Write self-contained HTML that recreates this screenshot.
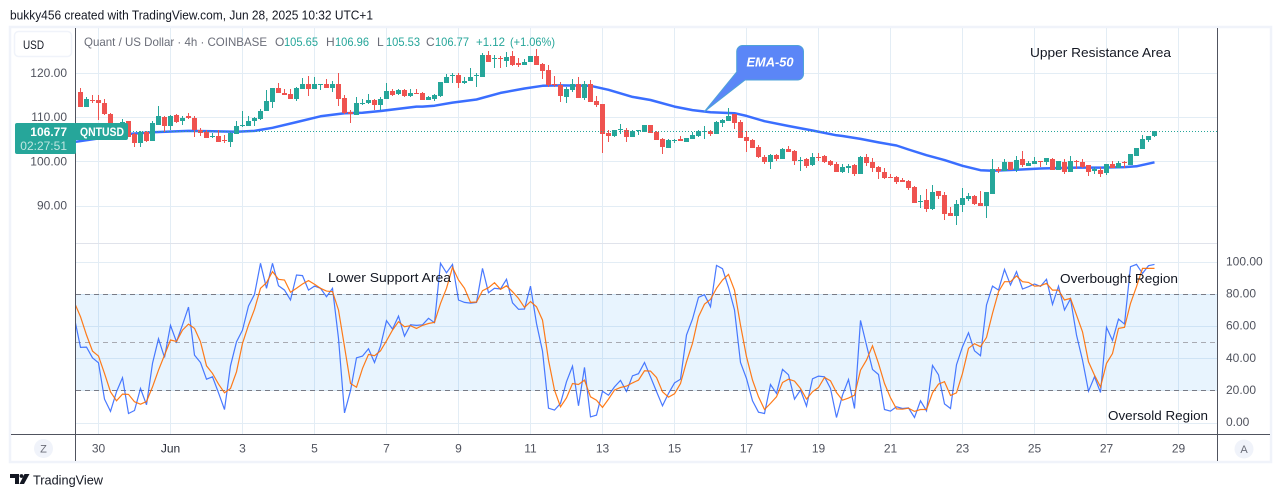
<!DOCTYPE html>
<html lang="en">
<head>
<meta charset="utf-8">
<title>Quant / US Dollar chart</title>
<style>
html,body{margin:0;padding:0;background:#fff;width:1281px;height:497px;overflow:hidden}
svg{display:block}
text{font-family:"Liberation Sans",sans-serif}
</style>
</head>
<body>
<svg id="chart" width="1281" height="497" viewBox="0 0 1281 497">
  <defs>
    <clipPath id="plot-clip"><rect x="76" y="28" width="1141" height="406"/></clipPath>
  </defs>
  <text x="10" y="19.5" font-size="13" fill="#131722" textLength="363" lengthAdjust="spacingAndGlyphs">bukky456 created with TradingView.com, Jun 28, 2025 10:32 UTC+1</text>
  <rect x="10" y="27" width="1261" height="435" fill="#fff" stroke="#f0f3fa" stroke-width="2.5"/>
  <g id="grid"></g>
  <rect id="band" x="76" fill="#2196f3" fill-opacity="0.1"/>
  <g id="osc-levels"></g>
  <line x1="76" x2="1217" y1="243.5" y2="243.5" stroke="#e0e3eb"/>
  <g clip-path="url(#plot-clip)">
    <polyline id="ema-line" fill="none" stroke="#2962ff" stroke-width="2.5" stroke-opacity="0.92" stroke-linejoin="round"/>
    <g id="candles"></g>
    <line id="price-line" x1="76" x2="1217" stroke="#26a69a" stroke-width="1" stroke-dasharray="1 2"/>
    <polyline id="k-line" fill="none" stroke="#2962ff" stroke-opacity="0.85" stroke-width="1.2"/>
    <polyline id="d-line" fill="none" stroke="#ff6d00" stroke-opacity="0.9" stroke-width="1.2"/>
  </g>
  <line x1="75.5" x2="75.5" y1="28" y2="461" stroke="#50535e"/>
  <line x1="1217.5" x2="1217.5" y1="28" y2="461" stroke="#50535e"/>
  <line x1="11" x2="1270" y1="434.5" y2="434.5" stroke="#50535e"/>
  <g id="price-labels"></g>
  <g id="osc-labels"></g>
  <g id="time-labels"></g>

  <g>
    <rect x="14.5" y="31.5" width="57" height="25" rx="4" fill="#fff" stroke="#f0f3fa" stroke-width="1.5"/>
    <text x="23" y="49" font-size="12" fill="#131722" textLength="21" lengthAdjust="spacingAndGlyphs">USD</text>
  </g>

  <g font-size="12">
    <text x="84" y="46" fill="#6a6d78" textLength="183" lengthAdjust="spacingAndGlyphs">Quant / US Dollar · 4h · COINBASE</text>
    <text x="275" y="46" fill="#6a6d78">O</text>
    <text x="284" y="46" fill="#26a69a" textLength="34" lengthAdjust="spacingAndGlyphs">105.65</text>
    <text x="326" y="46" fill="#6a6d78">H</text>
    <text x="335" y="46" fill="#26a69a" textLength="34" lengthAdjust="spacingAndGlyphs">106.96</text>
    <text x="377" y="46" fill="#6a6d78">L</text>
    <text x="386" y="46" fill="#26a69a" textLength="34" lengthAdjust="spacingAndGlyphs">105.53</text>
    <text x="426" y="46" fill="#6a6d78">C</text>
    <text x="435" y="46" fill="#26a69a" textLength="34" lengthAdjust="spacingAndGlyphs">106.77</text>
    <text x="476" y="46" fill="#26a69a" textLength="29" lengthAdjust="spacingAndGlyphs">+1.12</text>
    <text x="510" y="46" fill="#26a69a" textLength="45" lengthAdjust="spacingAndGlyphs">(+1.06%)</text>
  </g>

  <g>
    <path d="M75 123H126a2 2 0 0 1 2 2V138a2 2 0 0 1-2 2H75Z" fill="#26a69a"/>
    <rect x="15" y="123" width="61" height="31" rx="2" fill="#26a69a"/>
    <text x="80" y="136" font-size="12" font-weight="bold" fill="#fff" textLength="44" lengthAdjust="spacingAndGlyphs">QNTUSD</text>
    <text x="67" y="136" font-size="12" font-weight="bold" fill="#fff" text-anchor="end">106.77</text>
    <text x="67" y="150" font-size="12" fill="#bfe6e1" text-anchor="end">02:27:51</text>
  </g>

  <g>
    <path d="M742.5 45.5H797.5a6 6 0 0 1 6 6V74a6 6 0 0 1-6 6H745L704.3 111.7L736.7 72V51.5a6 6 0 0 1 5.8-6Z" fill="#5b86f7" stroke="#4fa3d8" stroke-width="1"/>
    <text x="770" y="66.5" font-size="13" font-weight="bold" font-style="italic" fill="#fff" text-anchor="middle" textLength="47" lengthAdjust="spacingAndGlyphs">EMA-50</text>
  </g>

  <text x="1030" y="57" font-size="13" fill="#131722" textLength="141" lengthAdjust="spacingAndGlyphs">Upper Resistance Area</text>
  <text x="328" y="282" font-size="13" fill="#131722" textLength="123" lengthAdjust="spacingAndGlyphs">Lower Support Area</text>
  <text x="1060" y="283" font-size="13" fill="#131722" textLength="118" lengthAdjust="spacingAndGlyphs">Overbought Region</text>
  <text x="1108" y="420" font-size="13" fill="#131722" textLength="100" lengthAdjust="spacingAndGlyphs">Oversold Region</text>

  <g>
    <circle cx="43.5" cy="448.5" r="9.5" fill="#f0f3fa"/>
    <text x="43.5" y="452.5" font-size="11" fill="#6a6d78" text-anchor="middle">Z</text>
  </g>
  <g>
    <circle cx="1244" cy="449" r="9.5" fill="#f0f3fa"/>
    <text x="1244" y="453" font-size="11" fill="#6a6d78" text-anchor="middle">A</text>
  </g>

  <g>
    <path d="M10 474H19V484H15V478H10Z" fill="#131722"/>
    <circle cx="21.5" cy="476" r="1.9" fill="#131722"/>
    <path d="M24.5 474H29.5L24 484H19.5Z" fill="#131722"/>
    <text x="33" y="484.5" font-size="13" fill="#131722" textLength="70" lengthAdjust="spacingAndGlyphs">TradingView</text>
  </g>
</svg>

<script>
const opens = [115.8,112.4,113.9,113.9,113.3,110.8,106.5,106.0,109.2,106.1,104.2,106.7,104.7,108.3,110.1,107.9,110.5,109.2,110.2,109.9,107.0,106.7,105.7,105.8,104.9,104.5,106.2,108.0,107.9,109.1,109.5,111.4,113.5,116.7,115.5,115.3,114.1,116.4,117.6,116.4,117.2,117.6,116.7,117.6,114.3,111.1,110.5,112.9,113.2,113.9,112.8,114.2,116.0,115.2,116.1,114.7,115.5,115.5,113.9,114.1,114.8,117.8,119.3,119.6,117.8,118.3,119.3,119.2,124.1,123.2,123.3,122.8,123.9,122.3,121.7,122.5,123.9,122.0,120.7,117.4,117.2,114.6,116.2,117.5,114.3,117.5,113.7,113.0,106.4,105.7,107.2,107.1,105.5,106.9,106.7,108.2,106.7,105.1,103.1,104.7,105.0,104.4,105.1,105.7,106.8,106.9,106.2,108.8,109.1,110.7,108.9,105.5,104.8,103.2,101.0,99.8,101.5,100.6,102.8,102.3,100.1,100.5,99.2,101.1,101.2,100.1,99.4,97.6,98.6,99.2,97.1,101.0,99.9,98.7,97.6,96.4,96.4,95.8,95.5,94.2,90.8,91.2,89.2,93.3,92.3,88.3,87.6,90.1,91.4,92.1,90.5,89.9,92.6,98.3,97.8,99.9,98.0,100.5,98.9,99.4,100.1,99.9,100.5,98.0,99.9,97.6,100.2,99.9,99.2,97.8,98.0,97.3,99.4,98.5,99.9,99.2,101.2,102.8,104.9,105.65];
const highs = [116.6,114.5,115.1,115.1,114.1,110.9,108.3,109.5,109.2,106.4,106.8,106.8,109.2,112.6,110.2,110.5,110.8,110.2,110.9,110.2,107.5,107.0,106.5,107.0,106.0,106.6,109.1,111.4,110.3,110.0,111.8,116.1,116.6,117.7,116.4,116.4,116.8,118.9,119.4,119.1,117.5,118.6,118.3,120.0,115.1,111.7,114.5,114.1,115.2,114.2,114.5,117.7,116.4,116.3,116.4,116.4,116.4,115.8,114.8,115.2,118.0,119.8,119.9,119.9,119.2,121.1,119.9,124.5,125.0,124.1,123.9,124.7,124.9,123.3,123.1,123.9,125.4,122.3,121.7,119.3,118.0,116.9,118.6,119.0,118.1,118.4,114.8,113.0,107.1,107.2,108.4,107.5,107.1,107.1,108.2,108.2,106.8,105.3,105.0,105.1,105.7,105.4,106.7,107.2,108.0,107.1,109.1,109.7,112.1,110.7,109.4,106.9,105.0,103.6,101.4,101.6,101.6,103.0,103.5,102.6,101.0,100.7,102.0,101.8,101.4,100.4,99.8,99.5,99.3,99.4,101.2,101.7,100.7,98.9,98.4,97.1,96.7,96.2,95.8,94.4,92.3,93.7,94.6,93.3,93.0,89.6,91.2,93.9,92.8,92.3,93.3,93.0,100.5,98.7,100.5,99.9,101.2,102.3,100.1,101.0,100.1,100.8,100.8,100.1,100.5,101.2,100.3,100.5,99.2,98.7,98.7,99.4,100.1,100.1,100.1,101.7,103.0,106.0,105.8,106.96];
const lows = [112.4,112.2,113.3,109.4,110.5,107.9,105.5,105.5,105.5,103.3,103.3,104.5,104.6,108.3,106.7,107.1,108.7,108.3,109.7,105.6,105.8,105.3,105.2,104.4,104.1,103.3,106.1,107.7,107.9,108.0,109.4,111.3,112.1,115.5,115.1,114.2,113.7,116.4,114.9,116.4,116.1,116.7,115.6,112.6,110.8,108.8,110.5,112.7,113.0,111.7,111.7,114.1,114.9,115.0,114.5,114.5,115.2,113.9,113.9,113.7,114.5,117.8,117.8,116.7,117.4,118.2,116.9,119.2,122.5,121.1,121.1,121.4,121.6,121.4,121.7,122.4,121.9,118.6,116.9,116.9,113.4,113.3,115.8,114.3,114.0,113.4,112.4,101.9,104.4,105.5,106.1,104.4,105.5,106.0,106.7,106.5,104.8,101.6,103.1,104.2,104.7,104.4,105.0,105.5,105.0,105.8,106.2,107.8,109.1,107.3,105.4,102.2,103.1,100.7,99.5,98.3,100.2,100.5,102.2,99.2,97.9,98.6,99.0,100.1,99.7,98.9,97.6,97.3,97.4,96.7,97.1,98.9,97.7,96.0,96.0,96.2,94.9,95.3,93.5,90.5,89.4,88.5,88.9,91.4,86.7,87.6,85.5,88.5,91.0,90.1,89.9,87.3,92.6,97.3,97.8,98.0,97.6,98.7,98.9,99.4,98.7,99.2,98.0,98.0,97.1,97.6,98.3,98.5,96.7,97.1,96.4,96.9,98.5,98.5,98.5,99.2,101.2,102.8,104.4,105.53];
const closes = [112.4,114.1,113.8,113.3,110.8,108.6,107.8,109.0,105.6,104.2,106.7,104.7,108.8,110.3,107.9,110.3,108.9,109.9,109.9,107.1,106.5,105.3,105.8,104.5,104.6,106.5,108.0,108.2,109.2,109.9,111.5,113.7,116.6,115.5,115.1,114.2,116.7,117.6,116.4,117.4,117.4,116.7,117.6,114.2,110.9,110.7,113.2,113.3,113.9,112.7,114.1,115.9,115.1,116.1,114.7,115.5,115.3,113.9,114.6,115.0,118.0,119.0,119.6,117.8,118.3,119.1,119.5,124.1,122.5,123.3,123.2,123.6,121.8,121.9,122.4,123.8,121.9,120.5,117.3,117.2,114.9,116.3,117.4,114.3,117.5,113.4,112.8,106.3,105.7,107.0,107.4,105.5,106.9,107.0,108.2,106.5,104.8,103.2,104.8,104.9,104.7,105.3,106.0,106.9,106.9,106.2,108.9,109.4,110.3,108.8,105.4,104.7,103.1,100.9,99.8,101.4,100.5,102.9,102.2,100.1,100.3,98.9,101.1,101.0,99.9,99.2,97.6,98.7,98.9,97.1,101.0,99.7,98.5,97.6,96.2,96.2,95.3,95.3,93.9,90.5,91.0,89.2,93.0,92.1,88.0,87.6,90.3,91.7,92.1,90.3,89.9,93.0,98.3,97.8,99.9,98.0,100.3,99.2,99.6,100.1,99.9,100.8,98.0,100.1,97.6,100.1,100.0,98.7,97.6,98.3,97.1,99.4,98.5,99.6,99.7,101.7,103.0,105.1,105.8,106.77];
const emaBars = [-1,8,12,18,22,26,29,32,36,40,44,47,50,56,57,59,62,66,70,74,77,80,85,88,92,95,99,102,105,109,111,114,118,122,126,127,130,133,136,138,141,144,147,150,152,156,160,166,170,174,176,179];
const emaValues = [104.4,106.2,106.6,106.9,106.8,106.7,106.9,107.6,108.9,110.2,110.9,111.0,111.4,112.4,112.4,112.6,113.3,114.0,115.5,116.5,117.1,117.2,117.1,116.2,114.6,113.9,112.4,111.6,111.1,110.9,110.3,109.1,108.0,107.0,105.9,105.75,105.1,104.3,103.6,102.7,101.4,100.3,99.0,98.0,97.9,98.1,98.4,98.6,98.6,98.7,98.9,99.8];
const oscStartBar = -1;
const stochK = [64.9,46.8,47.0,40.3,37.2,14.6,6.9,19.1,27.9,5.6,7.5,21.2,11.0,36.8,52.2,40.5,60.5,50.3,60.9,71.9,42.0,37.4,27.0,28.5,18.5,8.1,35.3,50.3,57.6,72.6,79.8,99.2,83.6,99.2,85.2,82.5,76.3,91.9,91.5,82.5,85.0,83.6,78.4,83.6,52.4,6.0,19.8,40.3,41.4,45.9,37.4,47.6,63.4,58.2,66.3,53.8,60.9,60.5,60.9,64.9,62.2,99.2,93.3,98.5,76.3,74.8,74.4,74.8,96.0,80.9,83.6,83.2,89.2,74.6,70.5,70.7,85.0,61.7,44.5,8.9,7.7,11.9,25.4,35.1,10.4,34.3,3.5,4.6,19.5,17.0,22.2,26.2,19.3,29.1,30.4,37.4,28.5,19.3,10.4,18.1,24.7,27.0,54.5,64.4,78.0,79.6,72.1,97.9,95.8,84.2,70.1,37.4,27.4,13.5,6.4,5.6,23.7,18.1,33.1,29.7,14.6,20.2,10.2,27.2,28.9,28.5,21.2,3.1,17.0,26.8,8.7,63.6,48.2,33.1,29.9,8.1,7.1,9.8,8.7,9.1,3.1,13.5,7.3,35.6,29.7,11.6,8.7,36.0,47.2,55.9,44.7,41.6,73.2,85.0,82.5,95.4,85.7,94.0,83.2,84.6,86.3,84.8,89.2,73.6,85.0,70.1,77.1,54.5,38.9,19.5,28.5,18.7,59.3,51.1,64.4,61.3,97.1,98.5,92.9,97.7,98.5];
const stochD = [74.6,65.9,54.5,44.5,41.4,30.6,19.1,13.5,17.7,17.5,12.9,11.4,13.1,22.2,32.6,42.0,51.4,50.5,57.6,61.3,58.6,50.3,35.3,30.6,23.9,18.5,21.2,31.6,49.3,60.7,70.5,83.6,87.1,94.0,89.2,88.8,81.1,83.6,86.3,88.4,86.1,83.6,81.9,81.5,70.1,47.2,24.3,22.0,33.7,42.4,41.6,44.7,50.9,57.6,62.8,59.7,60.3,58.6,60.5,61.7,62.4,74.2,83.6,96.7,88.8,83.6,74.8,75.1,82.1,84.0,87.1,83.0,85.2,81.5,77.3,71.7,75.3,72.1,63.8,38.9,20.2,9.8,15.4,24.3,23.7,26.4,16.0,13.9,9.4,14.6,20.2,21.8,22.7,24.7,26.4,32.2,32.0,28.1,19.1,15.8,17.9,24.3,37.8,49.3,65.9,73.8,76.7,83.6,88.8,92.3,82.5,60.7,41.0,26.4,16.0,8.1,11.9,16.0,24.9,27.0,25.8,21.2,14.6,19.1,21.8,28.1,26.0,18.7,13.9,15.2,17.0,32.6,38.9,47.8,36.8,24.3,15.4,8.5,8.3,8.9,6.9,8.1,8.1,18.5,23.9,25.4,16.8,18.5,30.6,46.2,49.1,47.2,53.0,68.0,81.5,87.7,87.7,91.3,87.7,87.3,85.0,85.2,86.7,82.5,82.5,76.3,77.3,66.9,56.5,37.8,29.5,22.2,36.8,43.0,58.6,59.3,74.2,84.6,96.0,96.0,96.0];
const priceTicks = [120, 110, 100, 90];
const oscTicks = [100, 80, 60, 40, 20, 0];
const oscLevels = [80, 50, 20];
const timeLabels = ["30","Jun","3","5","7","9","11","13","15","17","19","21","23","25","27","29"];
const lastPrice = 106.77;

const SVG_NS = 'http://www.w3.org/2000/svg';
const xScale = function (bar) { return 80.5 + 6 * bar; };
const priceY = function (price) { return 73 + (120 - price) * 4.42; };
const oscY = function (value) { return 422.5 - value * 1.605; };
const tickX = function (index) { return 98.5 + 72 * index; };
const make = function (tag, parent) {
  const node = document.createElementNS(SVG_NS, tag);
  parent.appendChild(node);
  return node;
};
const gridColor = '#e3edf5';
const gridGroup = document.getElementById('grid');

timeLabels.forEach(function (label, index) {
  const el = make('line', gridGroup);
  
  
  el.setAttribute('x1', tickX(index));
  el.setAttribute('x2', tickX(index));
  el.setAttribute('y1', 28);
  el.setAttribute('y2', 434);
  el.setAttribute('stroke', gridColor);
});

priceTicks.forEach(function (tick) {
  const y = Math.round(priceY(tick)) + 0.5;
  const el = make('line', gridGroup);
  
  
  el.setAttribute('x1', 76);
  el.setAttribute('x2', 1217);
  el.setAttribute('y1', y);
  el.setAttribute('y2', y);
  el.setAttribute('stroke', gridColor);
  const label = make('text', document.getElementById('price-labels'));
  
  
  label.setAttribute('x', 67);
  label.setAttribute('y', priceY(tick) + 4);
  label.setAttribute('font-size', '12');
  label.setAttribute('fill', '#50535e');
  label.setAttribute('text-anchor', 'end');
  label.textContent = tick.toFixed(2);
});

oscTicks.forEach(function (tick) {
  const y = Math.round(oscY(tick)) + 0.5;
  const el = make('line', gridGroup);
  
  
  el.setAttribute('x1', 76);
  el.setAttribute('x2', 1217);
  el.setAttribute('y1', y);
  el.setAttribute('y2', y);
  el.setAttribute('stroke', gridColor);
  const label = make('text', document.getElementById('osc-labels'));
  
  
  label.setAttribute('x', 1226);
  label.setAttribute('y', oscY(tick) + 3.5);
  label.setAttribute('font-size', '12');
  label.setAttribute('fill', '#50535e');
  label.textContent = tick.toFixed(2);
});

timeLabels.forEach(function (text, index) {
  const label = make('text', document.getElementById('time-labels'));
  
  
  label.setAttribute('x', tickX(index));
  label.setAttribute('y', 452.5);
  label.setAttribute('font-size', '12');
  label.setAttribute('fill', text === 'Jun' ? '#2a2e39' : '#50535e');
  label.setAttribute('text-anchor', 'middle');
  label.textContent = text;
});

const band = document.getElementById('band');
band.setAttribute('y', oscY(oscLevels[0]));
band.setAttribute('width', 1141);
band.setAttribute('height', oscY(oscLevels[2]) - oscY(oscLevels[0]));

oscLevels.forEach(function (level) {
  const el = make('line', document.getElementById('osc-levels'));
  
  
  const y = Math.round(oscY(level)) + 0.5;
  el.setAttribute('x1', 76);
  el.setAttribute('x2', 1217);
  el.setAttribute('y1', y);
  el.setAttribute('y2', y);
  el.setAttribute('stroke', level === 50 ? '#a8aab2' : '#787b86');
  el.setAttribute('stroke-dasharray', '5 4');
});

document.getElementById('ema-line').setAttribute('points', emaBars.map(function (bar, index) {
  return xScale(bar) + ',' + priceY(emaValues[index]).toFixed(1);
}).join(' '));

const candleGroup = document.getElementById('candles');
opens.forEach(function (open, bar) {
  const close = closes[bar];
  const color = close >= open ? '#26a69a' : '#ef5350';
  const cx = xScale(bar);
  const wick = make('rect', candleGroup);
  
  
  const wickTop = Math.round(priceY(highs[bar]));
  wick.setAttribute('x', cx - 0.5);
  wick.setAttribute('y', wickTop);
  wick.setAttribute('width', 1);
  wick.setAttribute('height', Math.max(1, Math.round(priceY(lows[bar])) - wickTop));
  wick.setAttribute('fill', color);
  const body = make('rect', candleGroup);
  
  
  const bodyTop = Math.round(priceY(Math.max(open, close)));
  body.setAttribute('x', cx - 2.5);
  body.setAttribute('y', bodyTop);
  body.setAttribute('width', 5);
  body.setAttribute('height', Math.max(1, Math.round(priceY(Math.min(open, close))) - bodyTop));
  body.setAttribute('fill', color);
});

const priceLine = document.getElementById('price-line');
const lastY = Math.round(priceY(lastPrice)) + 0.5;
priceLine.setAttribute('y1', lastY);
priceLine.setAttribute('y2', lastY);

const oscPoints = function (series) {
  return series.map(function (value, index) {
    return xScale(oscStartBar + index) + ',' + oscY(value).toFixed(1);
  }).join(' ');
};
document.getElementById('k-line').setAttribute('points', oscPoints(stochK));
document.getElementById('d-line').setAttribute('points', oscPoints(stochD));
</script>
</body>
</html>
